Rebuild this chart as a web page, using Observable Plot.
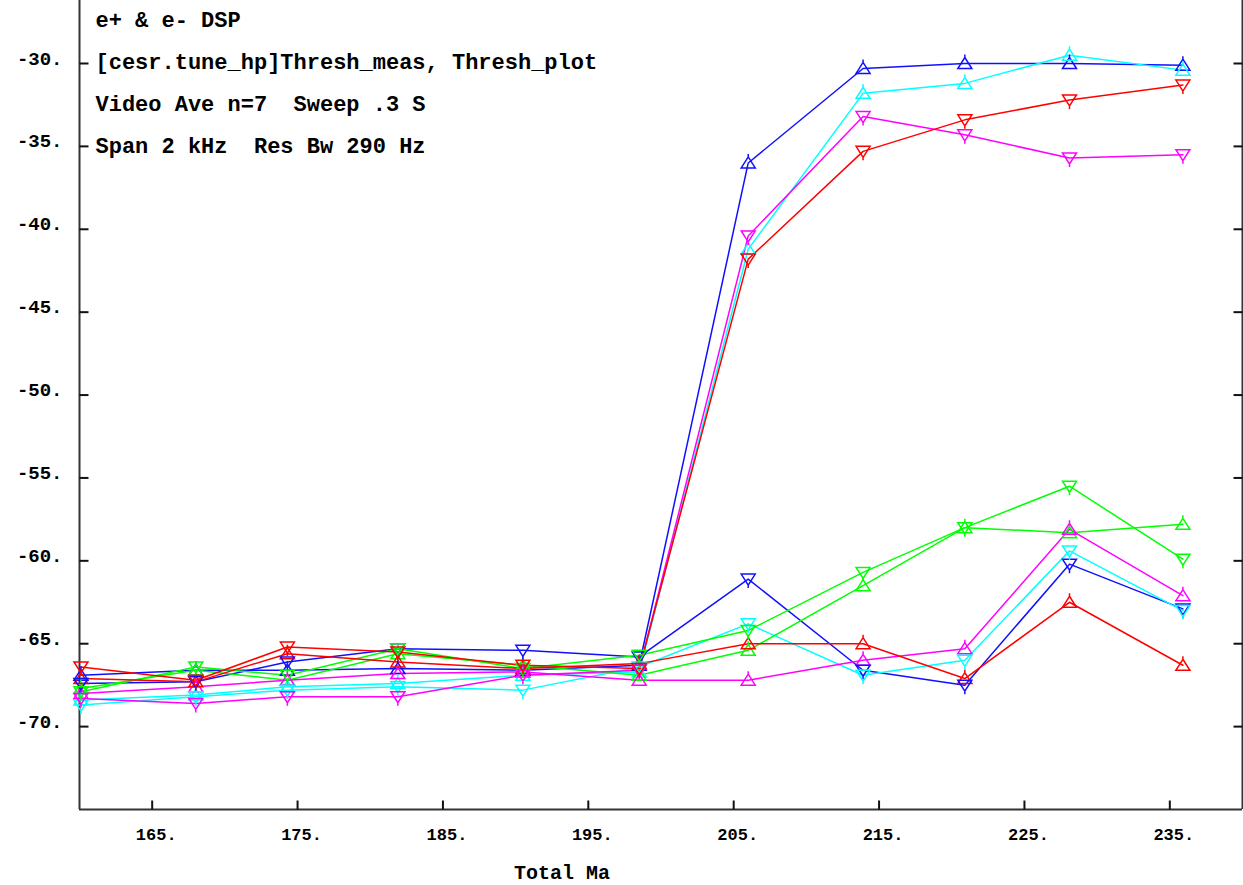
<!DOCTYPE html>
<html>
<head>
<meta charset="utf-8">
<script src="https://cdn.jsdelivr.net/npm/d3@7"></script>
<script src="https://cdn.jsdelivr.net/npm/@observablehq/plot@0.6"></script>
<style>
  html, body { margin: 0; padding: 0; background: #fff; }
  #chart svg { display: block; }
</style>
</head>
<body>
<div id="chart"></div>
<script>
// ---- data ----
const totalMa = [160.1, 168.0, 174.3, 181.9, 190.5, 198.5, 206.0, 213.9, 220.9, 228.1, 235.9];

const blueUp      = [-66.9, -66.6, -66.6, -66.5, -66.6, -66.3, -36.0, -30.3, -30.0, -30.0, -30.1];
const blueDown    = [-67.4, -67.3, -66.1, -65.3, -65.4, -65.8, -61.1, -66.6, -67.5, -60.2, -62.9];
const cyanUp      = [-68.4, -68.1, -67.6, -67.4, -66.9, -66.7, -41.2, -31.8, -31.2, -29.5, -30.4];
const cyanDown    = [-68.7, -68.2, -67.8, -67.6, -67.8, -66.4, -63.8, -66.9, -66.0, -59.4, -63.0];
const redUp       = [-67.1, -67.3, -65.6, -66.1, -66.5, -66.2, -65.0, -65.0, -67.1, -62.5, -66.3];
const redDown     = [-66.4, -67.2, -65.2, -65.5, -66.3, -66.5, -41.8, -35.3, -33.4, -32.2, -31.3];
const magentaUp   = [-68.0, -67.6, -67.2, -66.8, -66.7, -67.2, -67.2, -66.0, -65.3, -58.1, -62.1];
const magentaDown = [-68.3, -68.6, -68.2, -68.2, -66.9, -66.6, -40.4, -33.2, -34.3, -35.7, -35.5];
const greenUp     = [-67.7, -66.6, -67.2, -65.6, -66.3, -66.9, -65.4, -61.5, -58.0, -58.3, -57.8];
const greenDown   = [-67.9, -66.4, -66.9, -65.3, -66.5, -65.7, -64.2, -60.7, -58.0, -55.5, -59.9];

const seriesList = [
  {name: "blueUp", color: "#1010ff", marker: "up", values: blueUp},
  {name: "blueDown", color: "#1010ff", marker: "down", values: blueDown},
  {name: "cyanUp", color: "#00ffff", marker: "up", values: cyanUp},
  {name: "cyanDown", color: "#00ffff", marker: "down", values: cyanDown},
  {name: "greenUp", color: "#00ff00", marker: "up", values: greenUp},
  {name: "greenDown", color: "#00ff00", marker: "down", values: greenDown},
  {name: "magentaUp", color: "#ff00ff", marker: "up", values: magentaUp},
  {name: "magentaDown", color: "#ff00ff", marker: "down", values: magentaDown},
  {name: "redUp", color: "#ff0000", marker: "up", values: redUp},
  {name: "redDown", color: "#ff0000", marker: "down", values: redDown}
];

const xTicks = [165, 175, 185, 195, 205, 215, 225, 235];
const yTicks = [-30, -35, -40, -45, -50, -55, -60, -65, -70];
const xLabels = ["165.", "175.", "185.", "195.", "205.", "215.", "225.", "235."];
const yLabels = ["-30.", "-35.", "-40.", "-45.", "-50.", "-55.", "-60.", "-65.", "-70."];
const notes = ["e+ & e- DSP", "[cesr.tune_hp]Thresh_meas, Thresh_plot", "Video Ave n=7  Sweep .3 S", "Span 2 kHz  Res Bw 290 Hz"];
const xTitle = "Total Ma";

// ---- build table ----
const rows = seriesList.flatMap(s => s.values.map((v, i) => ({series: s.name, color: s.color, marker: s.marker, x: totalMa[i], y: v})));

// ---- custom symbols ----
const triUp = {draw(c) { c.moveTo(0, -6); c.lineTo(7, 5); c.lineTo(-7, 5); c.closePath(); c.moveTo(0, -6); c.lineTo(0, -9); }};
const triDown = {draw(c) { c.moveTo(0, 6); c.lineTo(7, -5); c.lineTo(-7, -5); c.closePath(); c.moveTo(0, 6); c.lineTo(0, 9); }};
const tickUp = {draw(c) { c.moveTo(0, 0); c.lineTo(0, -9); }};
const tickRight = {draw(c) { c.moveTo(0, 0); c.lineTo(9, 0); }};
const tickLeft = {draw(c) { c.moveTo(0, 0); c.lineTo(-9, 0); }};

const mono = "'Liberation Mono', 'DejaVu Sans Mono', monospace";
const frameColor = "#333";
const txt = {fontFamily: mono, fontWeight: "bold", fill: "#000"};

const noteMarks = notes.map((n, i) => Plot.text([n], {
  frameAnchor: "top-left", text: d => d, dx: 16, dy: 19 + 42 * i,
  lineAnchor: "middle", textAnchor: "start", fontSize: 22, ...txt
}));

const chart = Plot.plot({
  width: 1243,
  height: 885,
  marginLeft: 79,
  marginRight: 1,
  marginTop: 0,
  marginBottom: 76,
  style: {background: "#fff", overflow: "visible"},
  x: {domain: [160, 240], axis: null},
  y: {domain: [-75, -26.2], axis: null},
  color: {type: "identity"},
  marks: [
    // frame
    Plot.ruleX([160], {stroke: frameColor, strokeWidth: 2}),
    Plot.ruleX([240], {stroke: frameColor, strokeWidth: 2}),
    Plot.ruleY([-75], {stroke: frameColor, strokeWidth: 2}),
    // ticks
    Plot.dot(xTicks, {x: d => d, y: () => -75, symbol: tickUp, stroke: "#111", strokeWidth: 2, r: 5}),
    Plot.dot(yTicks, {x: () => 160, y: d => d, symbol: tickRight, stroke: "#111", strokeWidth: 2, r: 5}),
    Plot.dot(yTicks, {x: () => 240, y: d => d, symbol: tickLeft, stroke: "#111", strokeWidth: 2, r: 5}),
    // tick labels
    Plot.text(xTicks, {x: d => d, y: () => -75, text: (d, i) => xLabels[i], dy: 25, dx: 4, fontSize: 17, ...txt}),
    Plot.text(yTicks, {x: () => 160, y: d => d, text: (d, i) => yLabels[i], dx: -17, dy: -5, textAnchor: "end", fontSize: 19, ...txt}),
    // axis title
    Plot.text([xTitle], {frameAnchor: "bottom", dx: -99, dy: 63, lineAnchor: "middle", fontSize: 20, ...txt}),
    // annotations
    ...noteMarks,
    // series lines
    Plot.line(rows, {x: "x", y: "y", z: "series", stroke: "color", strokeWidth: 1.5}),
    // markers
    Plot.dot(rows.filter(d => d.marker === "up"), {x: "x", y: "y", stroke: "color", symbol: triUp, fill: "none", strokeWidth: 1.5, r: 5}),
    Plot.dot(rows.filter(d => d.marker === "down"), {x: "x", y: "y", stroke: "color", symbol: triDown, fill: "none", strokeWidth: 1.5, r: 5})
  ]
});

document.getElementById("chart").appendChild(chart);
</script>
</body>
</html>
